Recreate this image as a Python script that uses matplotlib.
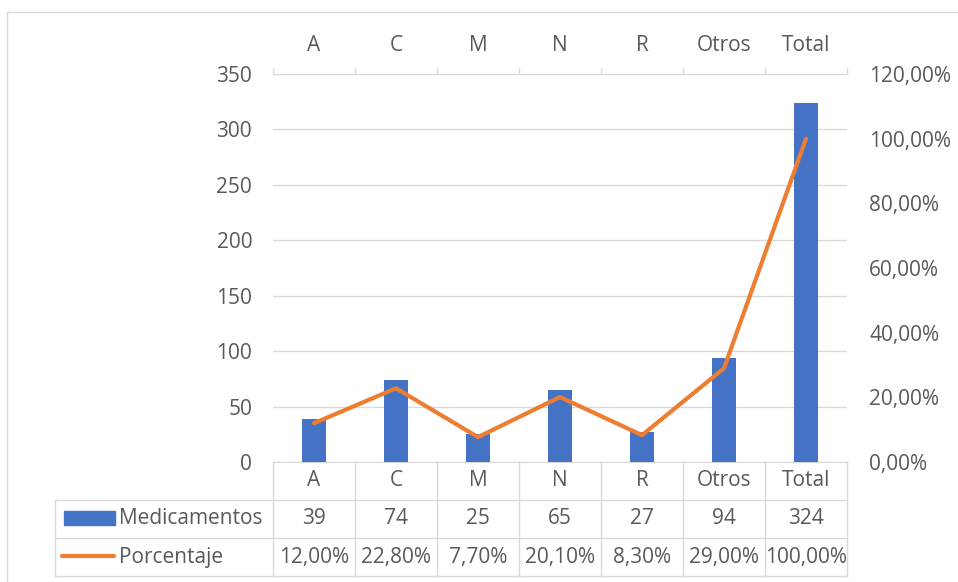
import numpy as np
import matplotlib.pyplot as plt
from matplotlib.lines import Line2D
from matplotlib.patches import Rectangle
from matplotlib.ticker import FuncFormatter, FixedLocator
from matplotlib.transforms import blended_transform_factory

categorias = ['A', 'C', 'M', 'N', 'R', 'Otros', 'Total']
medicamentos = [39, 74, 25, 65, 27, 94, 324]
porcentaje = [0.12, 0.228, 0.077, 0.201, 0.083, 0.29, 1.0]
serie_bar = 'Medicamentos'
serie_lin = 'Porcentaje'

AZUL = '#4472C4'
NARANJA = '#ED7D31'
TEXTO = '#595959'
GRIS = '#D9D9D9'

plt.rcParams['font.family'] = ['Open Sans', 'DejaVu Sans']
plt.rcParams['font.size'] = 15

W, H = 958, 582
fig = plt.figure(figsize=(W / 100, H / 100), dpi=100)

def fx(px):
    return px / W

def fy(py):
    return 1 - py / H

def pct(v, pos=None):
    return f'{v * 100:.2f}%'.replace('.', ',')

# plot area
x0, x1, y0, y1 = 273, 847, 74, 462
ax = fig.add_axes([fx(x0), fy(y1), fx(x1) - fx(x0), fy(y0) - fy(y1)])
ax2 = ax.twinx()

n = len(categorias)
xs = np.arange(n)
ax.bar(xs, medicamentos, width=0.29, color=AZUL, zorder=3)
ax.set_xlim(-0.5, n - 0.5)
ax.set_ylim(0, 350)
ax.set_yticks(np.arange(0, 351, 50))
ax.grid(axis='y', color=GRIS, lw=1, zorder=0)
ax.tick_params(axis='y', length=0, pad=15, labelcolor=TEXTO)
ax.set_axisbelow(True)

# category axis on top
ax.xaxis.tick_top()
ax.set_xticks(xs)
ax.set_xticklabels(categorias)
ax.xaxis.set_minor_locator(FixedLocator(np.arange(n + 1) - 0.5))
ax.tick_params(axis='x', which='major', length=0, pad=13, labelcolor=TEXTO)
ax.tick_params(axis='x', which='minor', length=4, color=GRIS, width=1)
for s in ['left', 'right']:
    ax.spines[s].set_visible(False)
ax.spines['top'].set_color(GRIS)
ax.spines['bottom'].set_color(GRIS)

ax2.plot(xs, porcentaje, color=NARANJA, lw=3, solid_capstyle='round',
         solid_joinstyle='round', zorder=5)
ax2.set_ylim(0, 1.2)
ax2.set_yticks(np.arange(0, 1.21, 0.2))
ax2.yaxis.set_major_formatter(FuncFormatter(pct))
ax2.tick_params(axis='y', length=0, pad=16, labelcolor=TEXTO)
for s in ax2.spines.values():
    s.set_visible(False)

# data table below the plot
tr = blended_transform_factory(ax.transData, fig.transFigure)
r0, r1, r2, r3 = 462, 500, 538, 576
lx = 55
def hline(xa, xb, py, t):
    fig.add_artist(Line2D([xa, xb], [fy(py), fy(py)], transform=t, color=GRIS, lw=1))
def vline(xv, pa, pb, t):
    fig.add_artist(Line2D([xv, xv], [fy(pa), fy(pb)], transform=t, color=GRIS, lw=1))

for py in [r1, r2, r3]:
    hline(fx(lx), fx(x1), py, fig.transFigure)
for b in np.arange(n + 1) - 0.5:
    vline(b, r0, r3, tr)
vline(fx(lx), r1, r3, fig.transFigure)

for i, c in enumerate(categorias):
    fig.text(xs[i], fy((r0 + r1) / 2), c, transform=tr, ha='center', va='center', color=TEXTO)
    fig.text(xs[i], fy((r1 + r2) / 2), str(medicamentos[i]), transform=tr,
             ha='center', va='center', color=TEXTO)
    fig.text(xs[i], fy((r2 + r3) / 2), pct(porcentaje[i]), transform=tr,
             ha='center', va='center', color=TEXTO)

# legend keys inside the table
fig.add_artist(Rectangle((fx(64), fy(525)), fx(115) - fx(64), fy(511) - fy(525),
                         transform=fig.transFigure, color=AZUL))
fig.add_artist(Line2D([fx(62), fx(114)], [fy(556), fy(556)], transform=fig.transFigure,
                      color=NARANJA, lw=3, solid_capstyle='round'))
fig.text(fx(119), fy((r1 + r2) / 2), serie_bar, ha='left', va='center', color=TEXTO)
fig.text(fx(119), fy((r2 + r3) / 2), serie_lin, ha='left', va='center', color=TEXTO)

# chart border
fig.add_artist(Line2D([fx(7), fx(7), 1], [0, fy(12), fy(12)], transform=fig.transFigure,
                      color=GRIS, lw=1))

fig.savefig('out.png', dpi=100)
